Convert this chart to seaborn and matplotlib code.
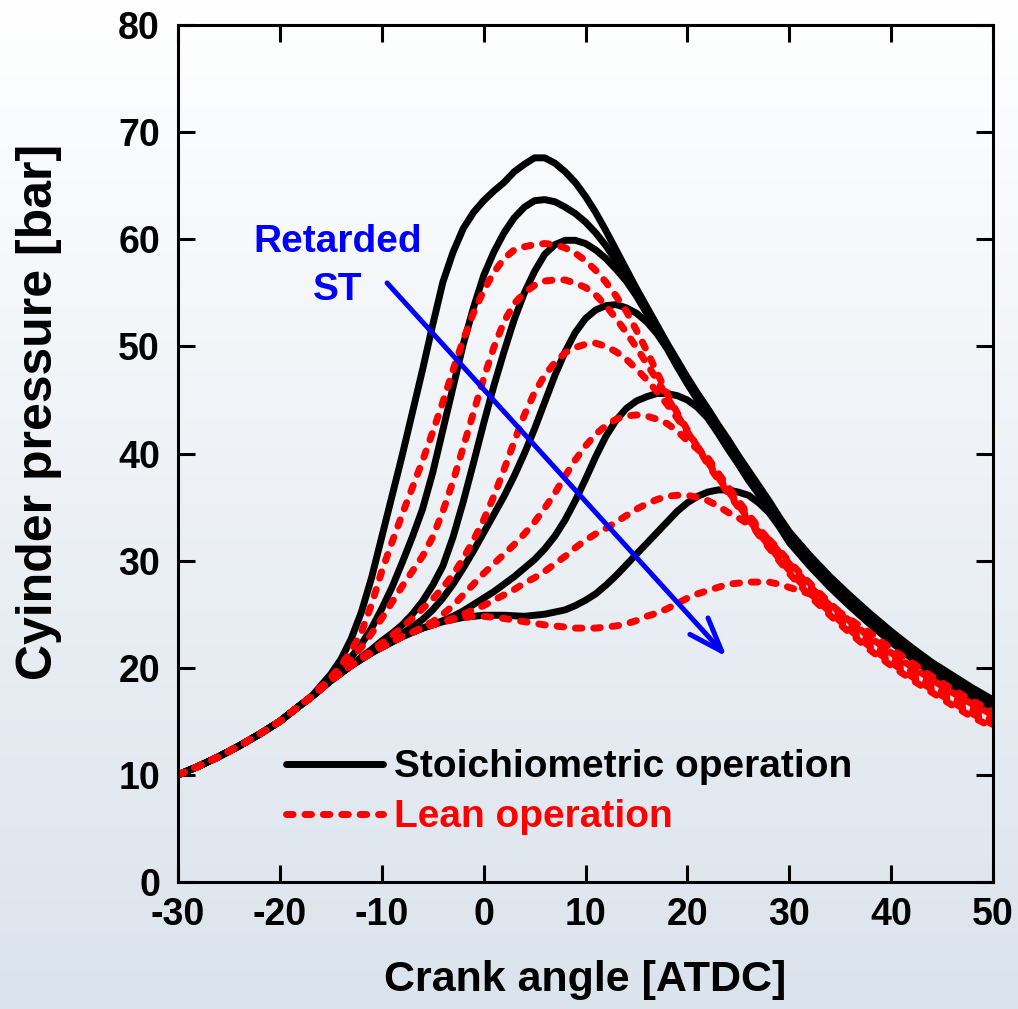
import numpy as np
import pandas as pd
import matplotlib
matplotlib.use("Agg")
import matplotlib.pyplot as plt
from matplotlib.lines import Line2D
import seaborn as sns

# ---------------- data ----------------
# crank angle grid [deg ATDC]: 2 deg steps in compression / late expansion,
# 1 deg steps through combustion
crank_angle = ([-30, -28, -26, -24, -22, -20, -18]
               + list(range(-17, 31))
               + [32, 34, 36, 38, 40, 42, 44, 46, 48, 50])

# shared compression part (-30 ... -18 deg)
compression = [10.0, 10.8, 11.7, 12.7, 13.8, 15.0, 16.5]

# Stoichiometric operation, spark timing advanced -> retarded
stoich_1 = compression + [
    17.2, 18.3, 19.4, 20.8, 22.7, 25.2, 28.4, 32.2, 36.0, 39.8, 43.8, 47.8,
    52.0, 56.0, 58.8, 61.0, 62.5,
    63.6, 64.5, 65.3, 66.3, 67.0, 67.6, 67.6, 67.1, 66.3, 65.3, 64.0, 62.5,
    60.8, 59.0, 57.2, 55.4, 53.7, 52.0, 50.3, 48.7, 47.1, 45.6, 44.2, 42.7,
    41.3, 39.8, 38.4, 37.0, 35.6, 34.1, 32.7,
    30.5, 28.5, 26.7, 25.0, 23.4, 21.9, 20.5, 19.3, 18.1, 17.0]
stoich_2 = compression + [
    17.2, 18.0, 18.9, 19.9, 21.0, 22.2, 23.7, 25.5, 27.5, 29.8, 32.2, 34.8,
    38.2, 42.2, 46.2, 50.2, 53.6,
    56.6, 58.8, 60.6, 62.0, 63.0, 63.6, 63.7, 63.5, 63.0, 62.4, 61.6, 60.6,
    59.4, 58.0, 56.5, 54.9, 53.3, 51.7, 50.1, 48.5, 46.9, 45.4, 44.0, 42.5,
    41.1, 39.6, 38.2, 36.8, 35.4, 33.9, 32.5,
    30.3, 28.3, 26.5, 24.8, 23.2, 21.7, 20.3, 19.1, 17.9, 16.8]
stoich_3 = compression + [
    17.2, 18.0, 18.8, 19.5, 20.2, 21.0, 21.7, 22.5, 23.2, 24.0, 25.0, 26.2,
    27.7, 29.5, 32.2, 35.5, 39.1,
    42.8, 46.3, 49.5, 52.5, 55.0, 57.0, 58.6, 59.5, 59.9, 59.9, 59.6, 59.0,
    58.2, 57.2, 56.1, 54.7, 53.1, 51.5, 49.9, 48.3, 46.7, 45.2, 43.8, 42.3,
    40.9, 39.4, 38.0, 36.6, 35.2, 33.7, 32.3,
    30.1, 28.1, 26.3, 24.6, 23.0, 21.5, 20.1, 18.9, 17.7, 16.6]
stoich_4 = compression + [
    17.2, 18.0, 18.8, 19.5, 20.2, 20.8, 21.4, 22.0, 22.6, 23.2, 23.8, 24.5,
    25.4, 26.5, 27.8, 29.3, 30.9,
    32.6, 34.3, 36.0, 37.9, 40.0, 42.3, 44.8, 47.3, 49.5, 51.3, 52.6, 53.4,
    53.8, 53.9, 53.6, 53.1, 52.3, 51.2, 49.8, 48.1, 46.5, 45.0, 43.6, 42.1,
    40.7, 39.2, 37.8, 36.4, 35.0, 33.5, 32.1,
    29.9, 27.9, 26.1, 24.4, 22.8, 21.3, 19.9, 18.7, 17.5, 16.4]
stoich_5 = compression + [
    17.2, 18.0, 18.8, 19.5, 20.2, 20.8, 21.4, 21.9, 22.4, 22.9, 23.3, 23.7,
    24.0, 24.4, 24.8, 25.3, 25.9,
    26.5, 27.1, 27.8, 28.5, 29.3, 30.1, 31.1, 32.3, 33.8, 35.6, 37.6, 39.7,
    41.6, 43.1, 44.2, 44.9, 45.3, 45.6, 45.6, 45.4, 45.0, 44.3, 43.3, 41.9,
    40.4, 39.0, 37.5, 36.2, 34.8, 33.3, 31.9,
    29.7, 27.7, 25.9, 24.2, 22.6, 21.1, 19.7, 18.5, 17.3, 16.2]
stoich_6 = compression + [
    17.2, 18.0, 18.8, 19.5, 20.2, 20.8, 21.4, 21.9, 22.4, 22.9, 23.3, 23.7,
    24.0, 24.3, 24.5, 24.7, 24.8,
    24.9, 24.9, 24.9, 24.85, 24.8, 24.9, 25.0, 25.2, 25.4, 25.8, 26.3, 26.9,
    27.7, 28.6, 29.6, 30.6, 31.6, 32.6, 33.6, 34.6, 35.4, 36.0, 36.4, 36.6,
    36.6, 36.4, 36.1, 35.4, 34.5, 33.2, 31.7,
    29.5, 27.5, 25.7, 24.0, 22.4, 20.9, 19.5, 18.3, 17.1, 16.0]

# Lean operation, spark timing advanced -> retarded
lean_1 = compression + [
    17.3, 18.2, 19.1, 20.2, 21.6, 23.3, 25.9, 29.0, 31.7, 34.3, 36.8, 39.3,
    42.0, 44.8, 47.8, 50.6, 53.1,
    55.2, 56.9, 58.2, 59.0, 59.3, 59.5, 59.6, 59.5, 59.2, 58.7, 58.0, 57.1,
    56.0, 54.7, 53.3, 51.5, 49.6, 47.6, 45.6, 43.8, 42.2, 40.6, 39.0, 37.6,
    36.3, 35.0, 33.7, 32.4, 31.2, 30.0, 28.8,
    26.7, 24.9, 23.2, 21.6, 20.2, 18.9, 17.7, 16.5, 15.4, 14.4]
lean_2 = compression + [
    17.2, 18.0, 18.9, 19.8, 20.8, 21.9, 23.2, 24.6, 26.1, 27.6, 29.0, 30.4,
    32.2, 34.6, 37.4, 40.6, 43.8,
    47.0, 49.9, 52.3, 54.0, 55.0, 55.7, 56.1, 56.2, 56.2, 55.9, 55.5, 54.8,
    53.8, 52.6, 51.3, 49.9, 48.4, 46.9, 45.3, 43.6, 42.0, 40.6, 39.2, 37.8,
    36.5, 35.2, 33.9, 32.6, 31.4, 30.2, 29.1,
    27.0, 25.2, 23.5, 21.9, 20.5, 19.2, 18.0, 16.8, 15.7, 14.7]
lean_3 = compression + [
    17.2, 18.0, 18.8, 19.5, 20.2, 20.9, 21.6, 22.3, 23.0, 23.8, 24.6, 25.5,
    26.4, 27.5, 28.7, 30.2, 31.9,
    33.8, 36.0, 38.5, 41.1, 43.6, 45.7, 47.3, 48.5, 49.4, 49.9, 50.2, 50.3,
    50.0, 49.5, 48.8, 47.9, 46.9, 45.8, 44.6, 43.3, 41.9, 40.6, 39.4, 38.0,
    36.7, 35.4, 34.1, 32.9, 31.7, 30.5, 29.4,
    27.3, 25.5, 23.8, 22.2, 20.8, 19.5, 18.3, 17.1, 16.0, 15.0]
lean_4 = compression + [
    17.2, 18.0, 18.8, 19.5, 20.2, 20.8, 21.4, 21.9, 22.4, 22.9, 23.3, 23.8,
    24.3, 25.0, 25.8, 26.8, 27.8,
    28.8, 29.7, 30.6, 31.5, 32.5, 33.6, 34.9, 36.3, 37.9, 39.4, 40.7, 41.8,
    42.6, 43.2, 43.5, 43.6, 43.5, 43.2, 42.8, 42.1, 41.2, 40.4, 39.6, 38.2,
    36.9, 35.6, 34.3, 33.1, 31.9, 30.8, 29.7,
    27.6, 25.8, 24.1, 22.5, 21.1, 19.8, 18.6, 17.4, 16.3, 15.3]
lean_5 = compression + [
    17.2, 18.0, 18.8, 19.5, 20.2, 20.8, 21.4, 21.9, 22.4, 22.9, 23.3, 23.7,
    24.0, 24.3, 24.6, 25.0, 25.4,
    25.8, 26.3, 26.8, 27.3, 27.9, 28.4, 29.0, 29.7, 30.4, 31.2, 31.9, 32.5,
    33.0, 33.6, 34.2, 34.8, 35.3, 35.7, 36.0, 36.1, 36.1, 35.9, 35.6, 35.1,
    34.5, 34.0, 33.4, 32.7, 32.0, 31.0, 29.9,
    27.9, 26.0, 24.3, 22.8, 21.4, 20.1, 18.9, 17.7, 16.6, 15.6]
lean_6 = compression + [
    17.2, 18.0, 18.8, 19.5, 20.2, 20.8, 21.4, 21.9, 22.4, 22.9, 23.3, 23.7,
    24.0, 24.3, 24.5, 24.7, 24.8,
    24.8, 24.7, 24.6, 24.45, 24.3, 24.15, 24.0, 23.9, 23.8, 23.7, 23.7, 23.7,
    23.8, 23.9, 24.1, 24.4, 24.8, 25.1, 25.5, 26.0, 26.5, 26.9, 27.2, 27.5,
    27.8, 27.9, 28.0, 28.0, 28.0, 27.8, 27.5,
    26.9, 25.8, 24.5, 23.2, 21.8, 20.5, 19.2, 18.0, 16.9, 15.9]

stoich_curves = [stoich_1, stoich_2, stoich_3, stoich_4, stoich_5, stoich_6]
lean_curves = [lean_1, lean_2, lean_3, lean_4, lean_5, lean_6]

x_ticks = [-30, -20, -10, 0, 10, 20, 30, 40, 50]
y_ticks = [0, 10, 20, 30, 40, 50, 60, 70, 80]
legend_labels = ["Stoichiometric operation", "Lean operation"]


def to_frame(curves):
    parts = []
    for i, vals in enumerate(curves):
        parts.append(pd.DataFrame({"angle": crank_angle,
                                   "pressure": vals,
                                   "case": i}))
    return pd.concat(parts, ignore_index=True)


stoich_df = to_frame(stoich_curves)
lean_df = to_frame(lean_curves)

# ---------------- style ----------------
sns.set_style("ticks")
plt.rcParams["font.family"] = ["Liberation Sans", "DejaVu Sans"]
plt.rcParams["font.weight"] = "bold"
plt.rcParams["axes.unicode_minus"] = False
plt.rcParams["axes.labelcolor"] = "black"
plt.rcParams["text.color"] = "black"
plt.rcParams["xtick.color"] = "black"
plt.rcParams["ytick.color"] = "black"

W, H = 1018, 1009
fig = plt.figure(figsize=(W / 100, H / 100), dpi=100)

# gradient background
bg = fig.add_axes([0, 0, 1, 1], zorder=-10)
g = np.linspace(0, 1, 256)[:, None, None]
top_c = np.array([1.0, 1.0, 1.0])
bot_c = np.array([219, 227, 236]) / 255.0
img = top_c + (bot_c - top_c) * g
bg.imshow(img, aspect="auto", extent=[0, 1, 0, 1], origin="upper")
bg.axis("off")

ax = fig.add_axes([178 / W, 1 - 882 / H, (993 - 178) / W, (882 - 25) / H])
ax.set_facecolor("none")

LW = 5.0
DASH = (0, (0.95, 1.7))

sns.lineplot(data=stoich_df, x="angle", y="pressure", units="case",
             estimator=None, color="black", lw=LW, ax=ax, legend=False,
             sort=False, solid_capstyle="round", solid_joinstyle="round")
sns.lineplot(data=lean_df, x="angle", y="pressure", units="case",
             estimator=None, color="red", lw=LW, ax=ax, legend=False,
             sort=False, linestyle=DASH, dash_capstyle="round",
             dash_joinstyle="round")

ax.set_xlim(-30, 50)
ax.set_ylim(0, 80)
ax.set_xticks(x_ticks)
ax.set_yticks(y_ticks)
ax.set_xticklabels([str(v) for v in x_ticks])
ax.set_yticklabels([str(v) for v in y_ticks])
ax.tick_params(axis="both", direction="in", length=12, width=2.2,
               top=True, right=True, labelsize=27, colors="black")
ax.tick_params(axis="x", pad=11)
ax.tick_params(axis="y", pad=13)
for sp in ax.spines.values():
    sp.set_visible(True)
    sp.set_linewidth(2.2)
    sp.set_color("black")

ax.set_xlabel("Crank angle [ATDC]", fontsize=31, fontweight="bold",
              color="black")
ax.xaxis.set_label_coords(0.5, -0.091)
ax.xaxis.label.set_va("top")
ax.set_ylabel("Cyinder pressure [bar]", fontsize=36, fontweight="bold",
              color="black")
ax.yaxis.set_label_coords(-0.142, 0.548)

# legend
handles = [Line2D([], [], color="black", lw=LW, solid_capstyle="round"),
           Line2D([], [], color="red", lw=LW, linestyle=DASH,
                  dash_capstyle="round")]
leg = ax.legend(handles, legend_labels, loc="upper left",
                bbox_to_anchor=(0.132, 0.155), frameon=False,
                prop={"size": 28, "weight": "bold"}, handlelength=2.5,
                handletextpad=0.3, labelspacing=0.36, borderaxespad=0,
                borderpad=0)
leg.get_texts()[0].set_color("black")
leg.get_texts()[1].set_color("red")

# annotation
ax.annotate("", xy=(23.86, 21.03), xytext=(-9.48, 55.92),
            arrowprops=dict(arrowstyle="->,head_length=0.61,head_width=0.22",
                            color="blue", lw=3.6, mutation_scale=40,
                            shrinkA=0, shrinkB=0))
ax.text(-14.3, 57.5, "Retarded\nST", color="blue", ha="center", va="center",
        fontsize=28, fontweight="bold", linespacing=1.42)

fig.savefig("out.png", dpi=100)
